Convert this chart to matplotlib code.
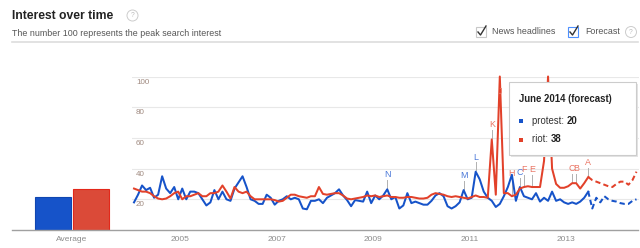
import matplotlib
matplotlib.use("Agg")
import matplotlib.pyplot as plt
from matplotlib.lines import Line2D
from matplotlib.patches import Rectangle
from matplotlib.text import Annotation
import numpy as np

# --- data (monthly, Jan 2004 .. Jun 2014, last 12 months are forecast) ---
protest = [
    18, 23, 29, 26, 27.5, 21, 23, 35, 27, 24, 28, 20,
    27, 20, 25, 25, 24, 20, 16, 18, 26, 20, 25, 20,
    19, 27, 31, 35, 28, 20, 19, 17, 17, 23, 21, 16.5,
    19, 20, 22, 20, 21, 20, 14, 13.5, 19, 19, 20, 17.5,
    21, 22.5, 24, 26.5, 22.5, 19.5, 15.5, 19.5, 19, 18.5, 25, 17.5,
    22.5, 20, 22.5, 26.5, 20, 21.5, 14, 16, 24, 17.5, 18.5, 17.5,
    16.5, 16.5, 19, 22.5, 24, 22, 15.5, 14, 15.5, 18, 26, 20,
    21, 38, 33, 25, 21, 19, 15, 17, 22, 28, 36, 19,
    28, 22, 21, 20, 24, 18.5, 21, 19, 25, 19, 20, 18,
    17, 18, 17, 18.5, 21, 25,
    14, 21, 18, 22, 20, 19, 18.5, 17.5, 17, 17, 19, 20,
]
riot = [
    27, 26, 25, 25, 24, 22, 20.5, 20, 20.5, 22, 24, 25,
    20, 22, 22, 23, 24, 22, 22, 24, 24, 25, 29, 25,
    20.5, 28, 25, 24, 25, 22, 20, 20, 20, 20, 20, 19.5,
    18.5, 19, 21, 23, 23, 22, 21.5, 21, 22, 22, 28, 23.5,
    23, 23.5, 24, 24, 22.5, 20.5, 20, 20.5, 21, 21.5, 22.5, 22,
    22.5, 21.5, 22, 22.5, 21.5, 21.5, 21, 21, 21.5, 21.5, 21, 20.5,
    20.5, 21, 23, 24, 23.5, 23, 22, 21.5, 22, 21.5, 21, 20.5,
    21.5, 22.5, 21.5, 21.5, 21, 59, 23, 100, 24, 24, 22, 23,
    27, 28, 28.5, 28, 28, 28, 45, 100, 40, 30, 27.5, 27.5,
    28.5, 30.5, 30.5, 27, 30.5, 34.5,
    32.5, 31.5, 30.5, 29.5, 28.5, 28, 30, 31.5, 31.5, 29.5, 32.5, 38,
]
n_history = 114

year_labels = ["2005", "2007", "2009", "2011", "2013"]
year_months = [12, 36, 60, 84, 108]
y_ticks = [20, 40, 60, 80, 100]

avg_terms = ["protest", "riot"]
avg_values = [21.5, 26.7]

news_letters = ["N", "M", "L", "K", "J", "H", "C", "F", "E", "C", "B", "A"]
news_series = ["protest", "protest", "protest", "riot", "riot", "riot",
               "protest", "riot", "riot", "riot", "riot", "riot"]
news_months = [63, 82, 85, 89, 91, 94, 96, 97, 99, 109, 110, 113]
news_lift = [0, 0, 0, 0, 0, 5.5, 0, 2, 2, 0, 0, 0]

tip_title = "June 2014 (forecast)"
tip_values = [20, 38]

# --- style ---
BLUE = "#1653c9"
RED = "#e2412a"
BLUE_LBL = "#4a78d8"
RED_LBL = "#ea7463"
W, H = 640, 248

plt.rcParams["font.family"] = ["Liberation Sans", "DejaVu Sans"]


def fx(px):
    return px / W


def fy(py):
    return 1 - py / H


fig = plt.figure(figsize=(6.4, 2.48), dpi=100, facecolor="white")

# --- main line chart ---
ax = fig.add_axes([fx(132), fy(230), fx(638.5) - fx(132), fy(76.5) - fy(230)])
ax.set_xlim(0, 126)
ax.set_ylim(0, 100)
ax.axis("off")

for t in y_ticks:
    ax.axhline(t, color="#e8e8e8", lw=0.8, zorder=0)
    ax.text(1, t - 3.6, str(t), ha="left", va="center", fontsize=5.8,
            color="#a08a80")

months = np.arange(len(protest)) + 0.5
series = {"protest": (protest, BLUE), "riot": (riot, RED)}
h = n_history
for name in ["protest", "riot"]:
    vals, col = series[name]
    ax.plot(months[:h], vals[:h], color=col, lw=1.45, clip_on=False,
            solid_joinstyle="round", zorder=3)
    ax.plot(months[h - 1:], vals[h - 1:], color=col, lw=1.45, clip_on=False,
            ls=(0, (2.6, 1.6)), zorder=3)

for m, lab in zip(year_months, year_labels):
    ax.text(m, -6.5, lab, ha="center", va="center", fontsize=6,
            color="#8c8c8c")

# news headline markers
for letter, s, m, lift in zip(news_letters, news_series, news_months, news_lift):
    vals, _ = series[s]
    v = vals[m]
    ly = min(v + 9.5 + lift, 90)
    col = BLUE_LBL if s == "protest" else RED_LBL
    if ly > v:
        ax.plot([m + 0.5, m + 0.5], [v + 1, ly - 3.5], color="#b0b0b0",
                lw=0.7, zorder=2)
    ax.text(m + 0.5, ly, letter, ha="center", va="center", fontsize=6.4,
            color=col, zorder=5)

# --- average bars ---
axb = fig.add_axes([fx(12), fy(230), fx(133) - fx(12), fy(76.5) - fy(230)])
axb.set_xlim(-1.088, 2.12)
axb.set_ylim(0, 100)
axb.axis("off")
axb.bar([0, 1], avg_values, width=0.955, color=[BLUE, "#db4a38"],
        edgecolor=["#1046b0", "#e3281a"], lw=0.8)
axb.text(0.5, -6.5, "Average", ha="center", va="center", fontsize=6,
         color="#8c8c8c")

# baseline
fig.add_artist(Line2D([fx(12), fx(638)], [fy(230), fy(230)], color="#a0a0a0",
                      lw=1.0))

# --- header ---
fig.text(fx(12), fy(16), "Interest over time", fontsize=8.7, fontweight="bold",
         color="#222222", va="center")
fig.text(fx(12), fy(33), "The number 100 represents the peak search interest",
         fontsize=6.4, color="#555555", va="center")
fig.add_artist(Line2D([fx(12), fx(638)], [fy(42), fy(42)], color="#dddddd",
                      lw=1.2))


def help_icon(px, py):
    fig.text(fx(px), fy(py), "?", fontsize=4.8, color="#bbbbbb", ha="center",
             va="center",
             bbox=dict(boxstyle="circle,pad=0.3", fc="white", ec="#cccccc",
                       lw=0.7))


help_icon(132.5, 15.5)
help_icon(631, 32)


def checkbox(px, py, edge):
    fig.add_artist(Rectangle((fx(px), fy(py + 10)), 10 / W, 10 / H,
                             fc="white", ec=edge, lw=0.8))
    fig.add_artist(Line2D([fx(px + 2), fx(px + 4.5), fx(px + 10)],
                          [fy(py + 5), fy(py + 8), fy(py - 1)],
                          color="#333333", lw=1.0))


checkbox(476, 27, "#c8c8c8")
fig.text(fx(492), fy(32), "News headlines", fontsize=6.4, color="#555555",
         va="center")
checkbox(568, 27, "#4d90fe")
fig.text(fx(585), fy(32), "Forecast", fontsize=6.4, color="#555555",
         va="center")

# --- tooltip ---
fig.add_artist(Rectangle((fx(511), fy(157)), 127 / W, 73 / H, fc="#e4e4e4",
                         ec="none", zorder=5))
fig.add_artist(Rectangle((fx(509), fy(155)), 127 / W, 73 / H, fc="white",
                         ec="#cccccc", lw=0.8, zorder=6))
fig.text(fx(519), fy(99), tip_title, fontsize=6.9, fontweight="bold",
         color="#222222", va="center", zorder=7)
for i, (term, col) in enumerate(zip(avg_terms, [BLUE, RED])):
    py = 121 + i * 18.5
    fig.add_artist(Rectangle((fx(519), fy(py + 2)), 4 / W, 4 / H, fc=col,
                             ec="none", zorder=7))
    t1 = fig.text(fx(532), fy(py), term + ": ", fontsize=6.9, color="#333333",
                  va="center", zorder=7)
    val = Annotation(str(tip_values[i]), xy=(1, 0.5), xycoords=t1,
                     va="center", ha="left", fontsize=6.9, fontweight="bold",
                     color="#222222", zorder=8)
    fig.add_artist(val)

fig.savefig("out.png", dpi=100, facecolor="white")
